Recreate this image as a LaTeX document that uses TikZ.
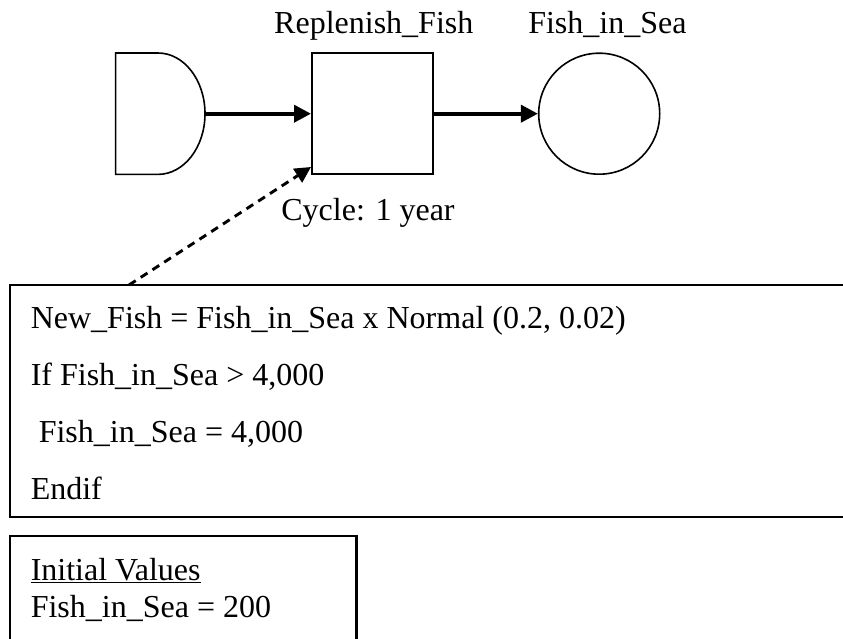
\documentclass[tikz,border=0pt]{standalone}
\usepackage{fontspec}
\setmainfont{Liberation Serif}
\usetikzlibrary{arrows.meta}
\begin{document}
\begin{tikzpicture}[x=1pt,y=-1pt,
  every node/.style={font=\fontsize{32}{38}\selectfont, inner sep=0pt},
  outline/.style={draw, line width=1.6pt},
  thickbox/.style={draw, line width=2.4pt},
  flow/.style={line width=3.8pt, -{Triangle[length=17pt,width=17pt]}},
  info/.style={line width=2.9pt, dash pattern=on 8pt off 6pt, -{Triangle[length=16pt,width=16pt]}},
  txt/.style={anchor=base west},
  lbl/.style={anchor=base}]
\useasboundingbox (0,0) rectangle (843,639);
% source (D shape)
\draw[outline] (115.6,53) -- (158,53)
  arc[start angle=90, end angle=-90, x radius=47pt, y radius=60.7pt]
  -- (115.6,174.4) -- cycle;
\coordinate (src) at (205,113.7);
% process box and stock circle
\node[outline, minimum width=121pt, minimum height=121pt] (rep) at (372.3,113.7) {};
\node[outline, circle, minimum size=121pt] (sea) at (599.2,113.7) {};
\draw[flow] (src) -- (rep.west);
\draw[flow] (rep.east) -- (sea.west);
% labels
\node[lbl] (lrep) at (373.8,34) {Replenish\_Fish};
\node[lbl] (lsea) at (607.4,34) {Fish\_in\_Sea};
\node[lbl] (lcyc) at (368,220.5) {Cycle: 1 year};
% rules box (open on the right)
\coordinate (rtr) at (843,285);
\coordinate (rtl) at (10,285);
\coordinate (rbl) at (10,517);
\coordinate (rbr) at (843,517);
\draw[outline] (rtr) -- (rtl) -- (rbl) -- (rbr);
\coordinate (dstart) at (129,285);
\draw[info] (dstart) -- ([yshift=8pt]rep.south west);
\node[txt] (l1) at (30.6,328.5) {New\_Fish = Fish\_in\_Sea x Normal (0.2, 0.02)};
\node[txt] (l2) at (30.6,385.5) {If Fish\_in\_Sea > 4,000};
\node[txt] (l3) at (30.6,442.5) {\hspace*{8pt}Fish\_in\_Sea = 4,000};
\node[txt] (l4) at (30.6,499.5) {Endif};
% initial values box (open at the bottom)
\coordinate (ibl) at (10,639);
\coordinate (itl) at (10,536);
\coordinate (itr) at (356.5,536);
\coordinate (ibr) at (356.5,639);
\draw[thickbox] (ibl) -- (itl) -- (itr) -- (ibr);
\node[txt] (i1) at (30.6,580) {\underline{Initial Values}};
\node[txt] (i2) at (30.6,617) {Fish\_in\_Sea = 200};
\end{tikzpicture}
\end{document}
